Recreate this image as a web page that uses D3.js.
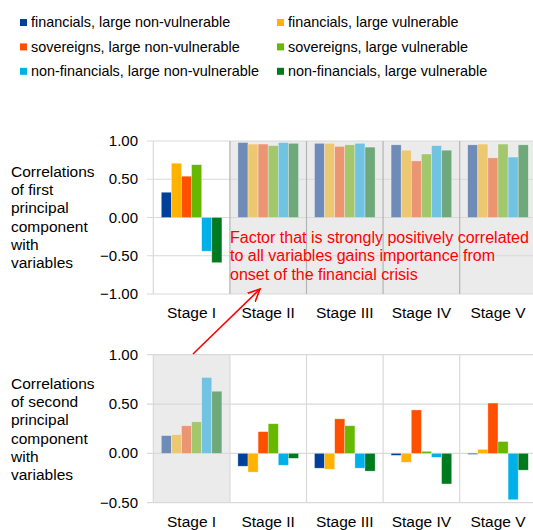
<!DOCTYPE html>
<html>
<head>
<meta charset="utf-8">
<script src="https://cdn.jsdelivr.net/npm/d3@7"></script>
<style>
  body { margin: 0; background: #fff; }
  text { font-family: "Liberation Sans", Arial, sans-serif; }
</style>
</head>
<body>
<script>
const stages = ["Stage I", "Stage II", "Stage III", "Stage IV", "Stage V"];
const seriesNames = [
    "financials, large non-vulnerable", "financials, large vulnerable",
    "sovereigns, large non-vulnerable", "sovereigns, large vulnerable",
    "non-financials, large non-vulnerable", "non-financials, large vulnerable"
];

// first principal component, one array per series (Stage I..V)
const pc1FinNv = [0.33, 0.98, 0.97, 0.95, 0.95];
const pc1FinV = [0.71, 0.96, 0.97, 0.88, 0.96];
const pc1SovNv = [0.54, 0.96, 0.93, 0.74, 0.78];
const pc1SovV = [0.69, 0.94, 0.95, 0.83, 0.96];
const pc1NonNv = [-0.44, 0.98, 0.97, 0.94, 0.79];
const pc1NonV = [-0.59, 0.97, 0.92, 0.88, 0.95];

// second principal component
const pc2FinNv = [0.18, -0.13, -0.15, -0.02, -0.01];
const pc2FinV = [0.19, -0.19, -0.16, -0.09, 0.04];
const pc2SovNv = [0.28, 0.22, 0.35, 0.44, 0.51];
const pc2SovV = [0.32, 0.30, 0.28, 0.02, 0.12];
const pc2NonNv = [0.77, -0.12, -0.15, -0.04, -0.47];
const pc2NonV = [0.63, -0.05, -0.18, -0.31, -0.17];

const topTicks = [1, 0.5, 0, -0.5, -1];
const bottomTicks = [1, 0.5, 0, -0.5];

const colors = ["#003f9a", "#ffb300", "#ff5000", "#66b800", "#00b0e8", "#007a1e"];
const faded = ["#6f8bb8", "#edc872", "#ec9573", "#a2c76d", "#70c4e2", "#6fa87a"];

const W = 533, H = 530;
const svg = d3.select("body").append("svg")
    .attr("width", W).attr("height", H);

svg.append("defs").append("marker")
    .attr("id", "arrow")
    .attr("viewBox", "-12 -8 14 16")
    .attr("refX", 0).attr("refY", 0)
    .attr("markerWidth", 14).attr("markerHeight", 16)
    .attr("markerUnits", "userSpaceOnUse")
    .attr("orient", "auto")
    .append("path")
    .attr("d", "M-15,-7 L0,0 L-15,7")
    .attr("fill", "none")
    .attr("stroke", "#ff0000")
    .attr("stroke-width", 1.6);

// legend
seriesNames.forEach((name, i) => {
    const col = i % 2, row = Math.floor(i / 2);
    const lx = col === 0 ? 20 : 277;
    const ly = 27.3 + row * 24.4;
    svg.append("rect")
        .attr("x", lx).attr("y", ly - 8.3)
        .attr("width", 7).attr("height", 7)
        .attr("fill", colors[i]);
    svg.append("text")
        .attr("x", lx + 11).attr("y", ly)
        .attr("font-size", "14.4px").attr("fill", "#000")
        .text(name);
});

const x = d3.scaleBand().domain(stages).range([153.3, 536.3]);
const xi = d3.scaleBand().domain(d3.range(6)).range([8, x.bandwidth() - 8]);

function drawPanel(opts) {
    const y = d3.scaleLinear().domain(opts.domain).range(opts.range);
    const g = svg.append("g");
    const series = opts.values;

    // shaded stages
    opts.shaded.forEach((s, j) => {
        if (!s) return;
        g.append("rect")
            .attr("x", x(stages[j])).attr("y", y(opts.domain[1]))
            .attr("width", x.bandwidth()).attr("height", y(opts.domain[0]) - y(opts.domain[1]))
            .attr("fill", "#ebebeb");
    });

    // horizontal gridlines
    g.selectAll(".grid").data(opts.ticks).join("line")
        .attr("x1", 147).attr("x2", W)
        .attr("y1", d => y(d)).attr("y2", d => y(d))
        .attr("stroke", "#d9d9d9").attr("stroke-width", 1.2);

    // vertical separators
    stages.forEach((s, j) => {
        const xx = x(s);
        g.append("line")
            .attr("x1", xx).attr("x2", xx)
            .attr("y1", y(opts.domain[1])).attr("y2", y(opts.domain[0]))
            .attr("stroke", j > 0 && opts.darkSep ? "#b4b4b4" : "#d9d9d9")
            .attr("stroke-width", 1.2);
    });

    // bars
    stages.forEach((s, j) => {
        series.forEach((vals, k) => {
            const v = vals[j];
            g.append("rect")
                .attr("x", x(s) + xi(k))
                .attr("y", y(Math.max(0, v)))
                .attr("width", xi.bandwidth())
                .attr("height", Math.abs(y(v) - y(0)))
                .attr("fill", opts.shaded[j] ? faded[k] : colors[k])
                .attr("stroke", "#ffffff").attr("stroke-opacity", 0.5)
                .attr("stroke-width", 0.6);
        });
    });

    // y tick labels
    g.selectAll(".tick").data(opts.ticks).join("text")
        .attr("x", 138).attr("y", d => y(d) + 5)
        .attr("text-anchor", "end")
        .attr("font-size", "15px").attr("fill", "#000")
        .text(d => d3.format(".2f")(d));

    // stage labels
    g.selectAll(".stage").data(stages).join("text")
        .attr("x", d => x(d) + x.bandwidth() / 2)
        .attr("y", opts.labelY)
        .attr("text-anchor", "middle")
        .attr("font-size", "15.5px").attr("fill", "#000")
        .text(d => d);

    // side title
    const t = g.append("text")
        .attr("font-size", "15.5px").attr("fill", "#000");
    opts.title.forEach((line, i) => {
        t.append("tspan").attr("x", 11).attr("y", opts.titleY + i * 18.2).text(line);
    });
}

drawPanel({
    domain: [-1, 1], range: [294, 141],
    ticks: topTicks,
    values: [pc1FinNv, pc1FinV, pc1SovNv, pc1SovV, pc1NonNv, pc1NonV],
    shaded: [false, true, true, true, true],
    darkSep: true,
    labelY: 318,
    titleY: 177,
    title: ["Correlations", "of first", "principal", "component", "with", "variables"]
});

drawPanel({
    domain: [-0.5, 1], range: [502.7, 354.7],
    ticks: bottomTicks,
    values: [pc2FinNv, pc2FinV, pc2SovNv, pc2SovV, pc2NonNv, pc2NonV],
    shaded: [true, false, false, false, false],
    darkSep: false,
    labelY: 527,
    titleY: 389,
    title: ["Correlations", "of second", "principal", "component", "with", "variables"]
});

// annotation
const note = svg.append("text")
    .attr("font-size", "16px").attr("fill", "#ff0000");
["Factor that is strongly positively correlated",
 "to all variables gains importance from",
 "onset of the financial crisis"].forEach((line, i) => {
    note.append("tspan").attr("x", 230).attr("y", 243 + i * 18.3).text(line);
});

svg.append("line")
    .attr("x1", 193).attr("y1", 354)
    .attr("x2", 260).attr("y2", 289)
    .attr("stroke", "#ff0000").attr("stroke-width", 1.6)
    .attr("marker-end", "url(#arrow)");
</script>
</body>
</html>
